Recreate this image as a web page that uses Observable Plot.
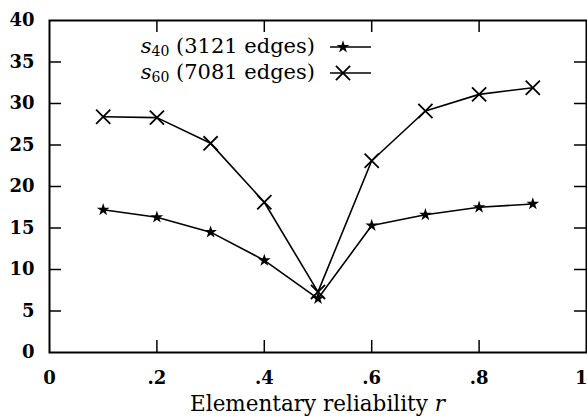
<!DOCTYPE html>
<html><head><meta charset="utf-8">
<script src="https://cdn.jsdelivr.net/npm/d3@7"></script>
<script src="https://cdn.jsdelivr.net/npm/@observablehq/plot@0.6"></script>
<style>
body{margin:0;background:#fff;}
#wrap{position:relative;width:587px;height:416px;font-family:"DejaVu Serif",serif;color:#000;}
.leg{position:absolute;font-size:21px;line-height:26px;white-space:nowrap;text-align:right;}
.leg sub{font-size:14px;vertical-align:-3px;font-style:normal;}
.xlabel{position:absolute;left:49px;width:537px;text-align:center;font-size:21.5px;top:392px;line-height:24px;}
</style></head><body><div id="wrap"></div>
<script>
// data
const r = [0.1, 0.2, 0.3, 0.4, 0.5, 0.6, 0.7, 0.8, 0.9];
const s40 = [17.2, 16.3, 14.5, 11.1, 6.5, 15.3, 16.6, 17.5, 17.9];
const s60 = [28.4, 28.3, 25.2, 18.1, 7.3, 23.1, 29.1, 31.1, 31.9];
const seriesSub = ["40", "60"];
const seriesEdges = ["3121", "7081"];
const seriesSymbols = ["star", "times"];
const xTicks = [0, 0.2, 0.4, 0.6, 0.8, 1];
const xTickLabels = ["0", ".2", ".4", ".6", ".8", "1"];
const yTicks = [0, 5, 10, 15, 20, 25, 30, 35, 40];
const xLabelText = "Elementary reliability ";
const xLabelVar = "r";

const W = 587, H = 416, mt = 20, mb = 64, ml = 49, mr = 1;
const ph = H - mt - mb, pw = W - ml - mr;
const tick = 12;
const rows40 = r.map((x, i) => ({r: x, v: s40[i]}));
const rows60 = r.map((x, i) => ({r: x, v: s60[i]}));
const inner = xTicks.slice(1, -1);
const innerY = yTicks.slice(1, -1);
const fmtX = d => xTickLabels[xTicks.indexOf(d)];

const chart = Plot.plot({
  width: W, height: H,
  marginTop: mt, marginBottom: mb, marginLeft: ml, marginRight: mr,
  style: {fontFamily: "DejaVu Serif", fontSize: "18px", color: "#000", background: "#fff", overflow: "visible"},
  x: {domain: [0, 1]},
  y: {domain: [0, 40]},
  marks: [
    Plot.axisX(xTicks.slice(0, -1), {tickSize: 0, tickPadding: 19, fontWeight: "bold", fontSize: 18, label: null, tickFormat: fmtX}),
    Plot.axisX(xTicks.slice(-1), {tickSize: 0, tickPadding: 19, fontWeight: "bold", fontSize: 18, label: null, tickFormat: fmtX, textAnchor: "end", dx: 1}),
    Plot.axisY(yTicks, {tickSize: 0, tickPadding: 15, fontWeight: "bold", fontSize: 18, label: null}),
    Plot.tickX(inner, {x: d => d, insetTop: ph - tick, strokeWidth: 1.5}),
    Plot.tickX(inner, {x: d => d, insetBottom: ph - tick, strokeWidth: 1.5}),
    Plot.tickY(innerY, {y: d => d, insetRight: pw - tick, strokeWidth: 1.5}),
    Plot.tickY(innerY, {y: d => d, insetLeft: pw - tick, strokeWidth: 1.5}),
    Plot.frame({strokeWidth: 2}),
    Plot.line(rows40, {x: "r", y: "v", stroke: "black", strokeWidth: 1.6}),
    Plot.line(rows60, {x: "r", y: "v", stroke: "black", strokeWidth: 1.6}),
    Plot.dot(rows60, {x: "r", y: "v", symbol: "times", stroke: "black", strokeWidth: 1.8, r: 6.5}),
    Plot.dot(rows40, {x: "r", y: "v", symbol: "star", fill: "black", r: 4})
  ]
});
const wrap = document.getElementById("wrap");
wrap.appendChild(chart);

// legend
seriesSub.forEach((s, i) => {
  const cy = 47 + i * 26;
  const t = document.createElement("div");
  t.className = "leg";
  t.style.right = (W - 315) + "px";
  t.style.top = (cy - 14) + "px";
  t.innerHTML = `<i>s</i><sub>${s}</sub> (${seriesEdges[i]} edges)`;
  wrap.appendChild(t);
  const svg = d3.create("svg").attr("width", 46).attr("height", 26)
    .style("position", "absolute").style("left", "327px").style("top", (cy - 13) + "px");
  svg.append("line").attr("x1", 3).attr("x2", 44).attr("y1", 13).attr("y2", 13)
    .attr("stroke", "black").attr("stroke-width", 1.6);
  const sym = seriesSymbols[i] === "star" ? d3.symbolStar : d3.symbolTimes;
  const rr = seriesSymbols[i] === "star" ? 4 : 6.5;
  const p = svg.append("path").attr("transform", "translate(16,13)")
    .attr("d", d3.symbol(sym, Math.PI * rr * rr)());
  if (seriesSymbols[i] === "star") p.attr("fill", "black");
  else p.attr("fill", "none").attr("stroke", "black").attr("stroke-width", 1.8);
  wrap.appendChild(svg.node());
});

const xl = document.createElement("div");
xl.className = "xlabel";
xl.innerHTML = `${xLabelText}<i>${xLabelVar}</i>`;
wrap.appendChild(xl);
</script>
</body></html>
